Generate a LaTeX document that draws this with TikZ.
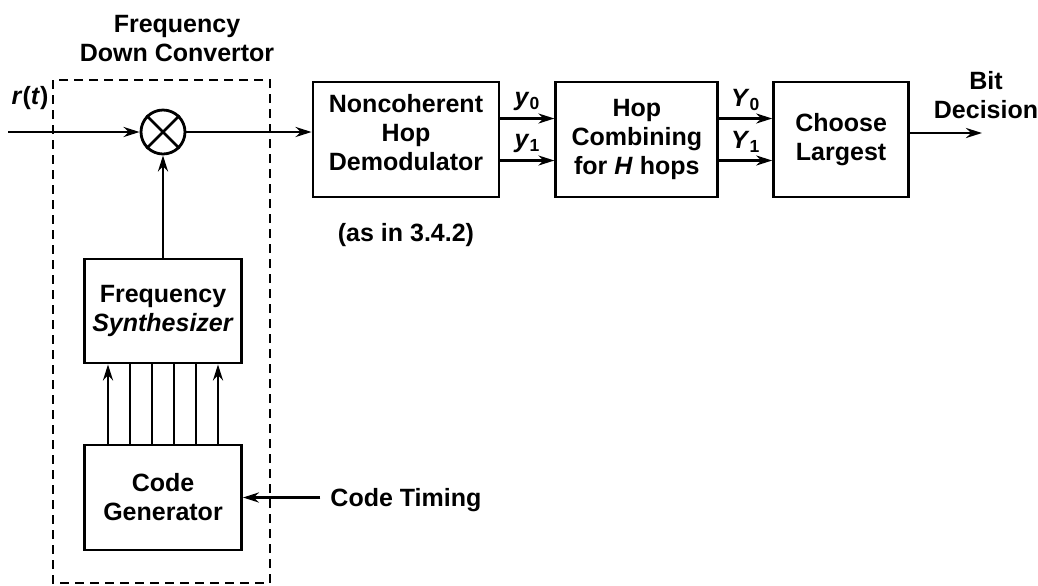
\documentclass[tikz,border=0pt]{standalone}
\usepackage{fontspec}
\setmainfont{Liberation Sans}
\usepackage{tikz}
\usetikzlibrary{arrows.meta, positioning, calc}

\begin{document}
\begin{tikzpicture}[node distance=1.2cm, >={Stealth[length=8pt,width=5pt]},
    every node/.style={font=\bfseries\fontsize{12.5}{14.5}\selectfont},
    blk/.style={rectangle, draw, line width=1.4pt, align=center, minimum height=57.5pt, inner sep=2pt},
    sig/.style={->, line width=1.4pt}]
        \useasboundingbox (0,0) rectangle (519pt,-292.5pt);

        % frequency down convertor
        \draw [line width=1.2pt, dash pattern=on 4.5pt off 3pt] (26.5pt,-40pt) rectangle (135pt,-291.5pt);
        \node [align=center] (fdc) at (88.5pt,-19.5pt) {Frequency\\Down Convertor};
        \node [circle, draw, line width=1.4pt, minimum size=22pt, inner sep=0pt] (mix) at (81.5pt,-66pt) {};
        \draw [line width=1.4pt] (mix.north west) -- (mix.south east) (mix.north east) -- (mix.south west);
        \node [blk, minimum width=78.5pt, minimum height=52pt] (synth) at (81.5pt,-155.5pt) {Frequency\\\textit{Synthesizer}};
        \node [blk, minimum width=78.5pt, minimum height=52.5pt] (codegen) at (81.5pt,-248.75pt) {Code\\Generator};

        % receiver chain
        \node [blk, minimum width=93pt] (demod) at (203pt,-69.75pt) {Noncoherent\\Hop\\Demodulator\\[-7pt]\mbox{}};
        \node [below=9pt of demod] (ref) {(as in 3.4.2)};
        \node [blk, minimum width=81pt, right=27pt of demod] (hop) {Hop\\Combining\\for \textit{H} hops};
        \node [blk, minimum width=67.5pt, right=26.5pt of hop] (choose) {Choose\\Largest};

        \coordinate (in) at (4pt,-66pt);
        \coordinate (bitout) at (491pt,-66.5pt);
        \coordinate [right=38.75pt of codegen] (timing);
        \node (rt) at (15pt,-49pt) {\textit{r}(\textit{t})};
        \node [align=center] (bit) at (493pt,-47.5pt) {Bit\\Decision};
        \node [right=1.5pt of timing, yshift=-1.5pt] (ctlabel) {Code Timing};

        \draw [sig] (in) -- (mix);
        \draw [sig] (mix) -- (mix -| demod.west);
        \draw [sig] (synth.north) -- (mix.south);
        \foreach \dx [count=\i] in {-27.5,-16.5,-5.5,5.5,16.5,27.5} {
            \ifnum\i=1 \draw [sig] ([xshift=\dx pt]codegen.north) -- ([xshift=\dx pt]synth.south);
            \else\ifnum\i=6 \draw [sig] ([xshift=\dx pt]codegen.north) -- ([xshift=\dx pt]synth.south);
            \else \draw [line width=1.4pt] ([xshift=\dx pt]codegen.north) -- ([xshift=\dx pt]synth.south);
            \fi\fi
        }
        \draw [sig] (timing) -- (codegen.east);
        \draw [sig] ([yshift=10.5pt]demod.east) -- node[above=0pt] {\textit{y}\textsubscript{0}} ([yshift=10.5pt]hop.west);
        \draw [sig] ([yshift=-10.5pt]demod.east) -- node[above=0pt] {\textit{y}\textsubscript{1}} ([yshift=-10.5pt]hop.west);
        \draw [sig] ([yshift=10.5pt]hop.east) -- node[above=0pt] {\textit{Y}\textsubscript{0}} ([yshift=10.5pt]choose.west);
        \draw [sig] ([yshift=-10.5pt]hop.east) -- node[above=0pt] {\textit{Y}\textsubscript{1}} ([yshift=-10.5pt]choose.west);
        \draw [sig] (choose.east |- bitout) -- (bitout);
    \end{tikzpicture}
\end{document}
